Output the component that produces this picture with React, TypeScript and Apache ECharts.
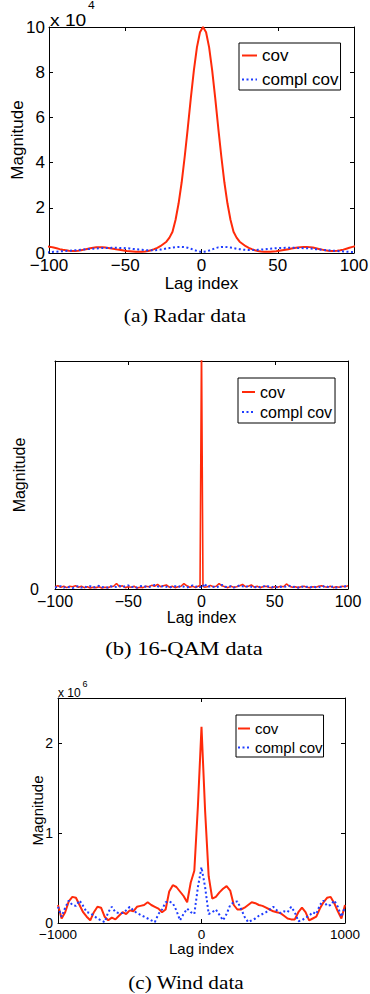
import { useEffect, useRef } from "react";
import * as echarts from "echarts";

// ---------- (a) Radar data: magnitude in units of 1e4, lags -101..101 step 2 ----------
const radarLags: number[] = Array.from({ length: 102 }, (_, i) => -101 + 2 * i);
const radarCov = [
  0.29, 0.27, 0.24, 0.21, 0.17, 0.14, 0.12, 0.1, 0.09, 0.09,
  0.1, 0.12, 0.15, 0.18, 0.21, 0.23, 0.25, 0.25, 0.25, 0.24,
  0.22, 0.2, 0.18, 0.15, 0.13, 0.11, 0.09, 0.08, 0.07, 0.06,
  0.06, 0.06, 0.07, 0.09, 0.12, 0.17, 0.23, 0.3, 0.4, 0.5,
  0.68, 0.94, 1.47, 2.2, 3.13, 4.27, 5.53, 6.85, 8.08, 9.1,
  9.77, 10.0, 9.77, 9.1, 8.08, 6.85, 5.53, 4.27, 3.13, 2.2,
  1.47, 0.94, 0.68, 0.5, 0.4, 0.3, 0.23, 0.17, 0.12, 0.09,
  0.07, 0.06, 0.06, 0.06, 0.07, 0.08, 0.1, 0.12, 0.14, 0.17,
  0.2, 0.22, 0.24, 0.26, 0.27, 0.27, 0.26, 0.24, 0.21, 0.18,
  0.15, 0.12, 0.1, 0.09, 0.09, 0.1, 0.12, 0.15, 0.19, 0.23,
  0.27, 0.3,
];
const radarCompl = [
  0.03, 0.04, 0.05, 0.06, 0.07, 0.08, 0.09, 0.1, 0.11, 0.12,
  0.13, 0.14, 0.16, 0.17, 0.18, 0.19, 0.2, 0.21, 0.22, 0.22,
  0.22, 0.23, 0.23, 0.23, 0.22, 0.22, 0.21, 0.2, 0.18, 0.17,
  0.15, 0.14, 0.13, 0.12, 0.12, 0.12, 0.13, 0.15, 0.17, 0.2,
  0.22, 0.24, 0.26, 0.27, 0.27, 0.26, 0.23, 0.19, 0.14, 0.09,
  0.06, 0.05, 0.07, 0.11, 0.16, 0.21, 0.25, 0.27, 0.27, 0.26,
  0.24, 0.22, 0.19, 0.17, 0.15, 0.14, 0.13, 0.13, 0.13, 0.14,
  0.15, 0.16, 0.18, 0.19, 0.2, 0.21, 0.22, 0.22, 0.23, 0.23,
  0.23, 0.23, 0.22, 0.22, 0.21, 0.21, 0.2, 0.19, 0.17, 0.16,
  0.14, 0.13, 0.12, 0.11, 0.1, 0.09, 0.08, 0.07, 0.06, 0.05,
  0.04, 0.04,
];
const radarYTicks = [0, 2, 4, 6, 8, 10];

// ---------- (b) 16-QAM data: even lags, plus -1, 0, 1 around the spike ----------
const qamLags: number[] = [
  ...Array.from({ length: 50 }, (_, i) => -100 + 2 * i),
  -1, 0, 1,
  ...Array.from({ length: 50 }, (_, i) => 2 + 2 * i),
];
const qamCov = [
  0.5, 0.7, 0.4, 0.6, 0.3, 0.6, 0.5, 0.7, 0.4, 0.6,
  0.3, 0.5, 0.2, 0.4, 0.3, 0.5, 0.2, 0.4, 0.3, 0.5,
  0.6, 1.2, 0.5, 0.7, 0.3, 0.5, 0.4, 0.6, 0.2, 0.4,
  0.3, 0.6, 0.5, 0.8, 0.6, 1.0, 0.5, 0.7, 0.9, 0.4,
  0.6, 0.3, 0.5, 0.6, 1.2, 0.7, 0.4, 0.6, 0.3, 0.7,
  0.5, 54, 0.6,
  0.4, 0.5, 0.8, 0.5, 0.6, 1.2, 0.7, 0.5, 0.3, 0.6,
  0.4, 0.5, 0.7, 1.0, 0.5, 0.6, 0.9, 0.4, 0.6, 0.3,
  0.5, 0.6, 0.4, 0.3, 0.5, 0.4, 0.6, 0.5, 1.1, 0.6,
  0.4, 0.5, 0.3, 0.5, 0.6, 0.4, 0.3, 0.5, 0.4, 0.6,
  0.7, 0.5, 0.4, 0.6, 0.3, 0.5, 0.4, 0.6, 0.5, 0.7,
];
const qamCompl = [
  0.3, 0.5, 0.6, 0.3, 0.5, 0.4, 0.2, 0.5, 0.6, 0.3,
  0.5, 0.4, 0.6, 0.3, 0.5, 0.7, 0.4, 0.5, 0.3, 0.6,
  0.4, 0.5, 0.7, 0.4, 0.6, 0.8, 0.4, 0.5, 0.3, 0.6,
  0.7, 0.5, 0.4, 0.6, 0.9, 0.6, 0.4, 0.7, 0.5, 0.3,
  0.5, 0.6, 0.4, 0.7, 0.5, 0.3, 0.6, 0.8, 0.5, 0.6,
  0.4, 0.7, 0.5,
  1.2, 0.4, 0.6, 0.5, 0.3, 0.6, 0.9, 0.5, 0.4, 0.6,
  0.3, 0.5, 0.8, 0.6, 0.4, 0.7, 0.5, 0.3, 0.6, 0.4,
  0.5, 0.8, 0.5, 0.4, 0.6, 0.3, 0.5, 0.4, 0.6, 0.7,
  0.4, 0.5, 0.3, 0.6, 0.4, 0.5, 0.3, 0.6, 0.4, 0.5,
  0.3, 0.7, 0.5, 0.4, 0.6, 0.3, 0.5, 0.4, 0.6, 0.8,
];

// ---------- (c) Wind data: magnitude in units of 1e6, lags -1000..1000 step 25 ----------
const windLags: number[] = Array.from({ length: 81 }, (_, i) => -1000 + 25 * i);
const windCov = [
  0.2, 0.05, 0.12, 0.24, 0.29, 0.28, 0.2, 0.12, 0.07, 0.03,
  0.12, 0.18, 0.17, 0.07, 0.03, 0.06, 0.04, 0.08, 0.12, 0.1,
  0.14, 0.13, 0.18, 0.19, 0.2, 0.23, 0.2, 0.18, 0.16, 0.12,
  0.15, 0.35, 0.42, 0.4, 0.35, 0.3, 0.23, 0.45, 0.58, 1.3,
  2.18,
  1.25, 0.52, 0.27, 0.29, 0.34, 0.38, 0.41, 0.36, 0.2, 0.15,
  0.15, 0.17, 0.2, 0.23, 0.22, 0.2, 0.19, 0.17, 0.15, 0.13,
  0.12, 0.11, 0.08, 0.05, 0.04, 0.04, 0.12, 0.17, 0.12, 0.03,
  0.05, 0.07, 0.16, 0.23, 0.28, 0.29, 0.22, 0.13, 0.05, 0.2,
];
const windCompl = [
  0.18, 0.07, 0.17, 0.25, 0.2, 0.19, 0.25, 0.19, 0.12, 0.11,
  0.08, 0.05, 0.03, 0.01, 0.12, 0.18, 0.12, 0.11, 0.11, 0.14,
  0.18, 0.14, 0.11, 0.09, 0.07, 0.05, 0.03, 0.01, 0.1, 0.15,
  0.23, 0.24, 0.22, 0.14, 0.03, 0.1, 0.16, 0.12, 0.1, 0.4,
  0.62,
  0.4, 0.1, 0.12, 0.15, 0.09, 0.03, 0.1, 0.2, 0.23, 0.24,
  0.16, 0.07, 0.01, 0.03, 0.05, 0.08, 0.1, 0.12, 0.15, 0.18,
  0.14, 0.11, 0.13, 0.12, 0.18, 0.12, 0.02, 0.03, 0.06, 0.08,
  0.12, 0.1, 0.2, 0.25, 0.19, 0.2, 0.25, 0.18, 0.07, 0.18,
];
const windYTicks = [0, 1, 2];

const legendNames = ["cov", "compl cov"];
const captions = ["(a) Radar data", "(b) 16-QAM data", "(c) Wind data"];

const RED = "#ff2a0a";
const BLUE = "#1f3dff";
const SANS = "'Liberation Sans', Arial, Helvetica, sans-serif";
const SERIF = "'Liberation Serif', 'Times New Roman', serif";

const fmtMinus = (v: number) => (v < 0 ? "\u2212" + Math.abs(v) : String(v));

function pair(xs: number[], ys: number[]) {
  return xs.map((x, i) => [x, ys[i]]);
}

function xAxes(gridIndex: number, min: number, max: number, interval: number, fontSize: number, margin: number, nameSize: number, nameGap: number) {
  const base = {
    gridIndex,
    type: "value",
    min,
    max,
    interval,
    splitLine: { show: false },
    axisLine: { show: true, onZero: false, lineStyle: { color: "#000", width: 1 } },
    axisTick: { show: true, inside: true, length: 4, lineStyle: { color: "#000", width: 1 } },
  };
  return [
    {
      ...base,
      position: "bottom",
      axisLabel: { show: true, color: "#000", fontSize, fontFamily: SANS, margin, formatter: fmtMinus },
      name: "Lag index",
      nameLocation: "middle",
      nameGap,
      nameMoveOverlap: false,
      nameTextStyle: { color: "#000", fontSize: nameSize, fontFamily: SANS },
    },
    { ...base, position: "top", axisLabel: { show: false } },
  ];
}

function yAxes(gridIndex: number, min: number, max: number, ticks: number[], fontSize: number, margin: number, nameSize: number, nameGap: number, sideTicks: boolean) {
  const base = {
    gridIndex,
    type: "value",
    min,
    max,
    splitLine: { show: false },
    axisLine: { show: true, onZero: false, lineStyle: { color: "#000", width: 1 } },
    axisTick: {
      show: sideTicks,
      inside: true,
      length: 4,
      customValues: ticks,
      lineStyle: { color: "#000", width: 1 },
    },
  };
  return [
    {
      ...base,
      position: "left",
      axisLabel: { show: true, color: "#000", fontSize, fontFamily: SANS, margin, customValues: ticks },
      name: "Magnitude",
      nameLocation: "middle",
      nameRotate: 90,
      nameGap,
      nameMoveOverlap: false,
      nameTextStyle: { color: "#000", fontSize: nameSize, fontFamily: SANS },
    },
    { ...base, position: "right", axisLabel: { show: false } },
  ];
}

function legend(left: number, top: number, itemWidth: number, fontSize: number, itemGap: number, padding: number[]) {
  return {
    data: legendNames,
    orient: "vertical",
    left,
    top,
    itemWidth,
    itemHeight: 12,
    itemGap,
    padding,
    borderColor: "#000",
    borderWidth: 1,
    borderRadius: 0,
    backgroundColor: "#fff",
    selectedMode: false,
    z: 10,
    itemStyle: { opacity: 0, color: "rgba(0,0,0,0)", borderWidth: 0 },
    textStyle: { color: "#000", fontSize, lineHeight: fontSize, fontFamily: SANS },
  };
}

function lines(idx: number, xs: number[], cov: number[], compl: number[], redWidth: number) {
  return [
    {
      type: "line",
      name: legendNames[0],
      xAxisIndex: idx * 2,
      yAxisIndex: idx * 2,
      data: pair(xs, cov),
      symbol: "none",
      clip: true,
      lineStyle: { color: RED, width: redWidth },
      itemStyle: { color: RED },
    },
    {
      type: "line",
      name: legendNames[1],
      xAxisIndex: idx * 2,
      yAxisIndex: idx * 2,
      data: pair(xs, compl),
      symbol: "none",
      clip: true,
      lineStyle: { color: BLUE, width: 2, type: [2, 2.5] },
      itemStyle: { color: BLUE },
    },
  ];
}

function text(x: number, y: number, str: string, fontSize: number, family: string, align: string, scaleX: number) {
  return {
    type: "text",
    x,
    y,
    scaleX,
    z: 20,
    style: {
      text: str,
      fontSize,
      fontFamily: family,
      fill: "#000",
      align,
      textAlign: align,
      verticalAlign: "middle",
      textVerticalAlign: "middle",
    },
  };
}

export default function App() {
  const ref = useRef<HTMLDivElement>(null);

  useEffect(() => {
    if (!ref.current) return;
    const chart = echarts.init(ref.current, undefined, { renderer: "svg" });
    const option: any = {
      animation: false,
      backgroundColor: "#fff",
      grid: [
        { left: 49, top: 27, width: 305, height: 226, containLabel: false, outerBoundsMode: "none", show: false },
        { left: 55, top: 361, width: 293, height: 228, containLabel: false, outerBoundsMode: "none", show: false },
        { left: 58, top: 698, width: 287, height: 225, containLabel: false, outerBoundsMode: "none", show: false },
      ],
      xAxis: [
        ...xAxes(0, -100, 100, 50, 17, 4, 17, 21.5),
        ...xAxes(1, -100, 100, 50, 16, 4, 16, 20),
        ...xAxes(2, -1000, 1000, 1000, 13.5, 4, 15, 18),
      ],
      yAxis: [
        ...yAxes(0, 0, 10, radarYTicks, 17, 4, 17, 23, true),
        ...yAxes(1, 0, 50, [0], 16, 16, 16, 28, false),
        ...yAxes(2, 0, 2.5, windYTicks, 14, 5, 15, 13, true),
      ],
      legend: [
        legend(239, 43, 15, 17, 7, [4, 2, 2, 2]),
        legend(238, 378, 13, 16, 4, [6, 3, 3, 3]),
        legend(236, 715, 12, 15, 4, [6, 1, 2, 1]),
      ],
      series: [
        ...lines(0, radarLags, radarCov, radarCompl, 2),
        ...lines(1, qamLags, qamCov, qamCompl, 1.6),
        ...lines(2, windLags, windCov, windCompl, 2),
      ],
      graphic: [
        text(50, 21, "x 10", 16, SANS, "left", 1.2),
        text(88, 5, "4", 11, SANS, "left", 1.1),
        text(58, 692.5, "x 10", 12, SANS, "left", 1),
        text(82.5, 684, "6", 9, SANS, "left", 1),
        text(185, 316, captions[0], 18, SERIF, "center", 1.2),
        text(184, 649, captions[1], 18, SERIF, "center", 1.25),
        text(186, 983, captions[2], 18, SERIF, "center", 1.18),
      ],
    };
    chart.setOption(option);
    return () => chart.dispose();
  }, []);

  return (
    <div
      ref={ref}
      style={{ position: "absolute", left: 0, top: 0, width: 370, height: 994, background: "#fff" }}
    />
  );
}
